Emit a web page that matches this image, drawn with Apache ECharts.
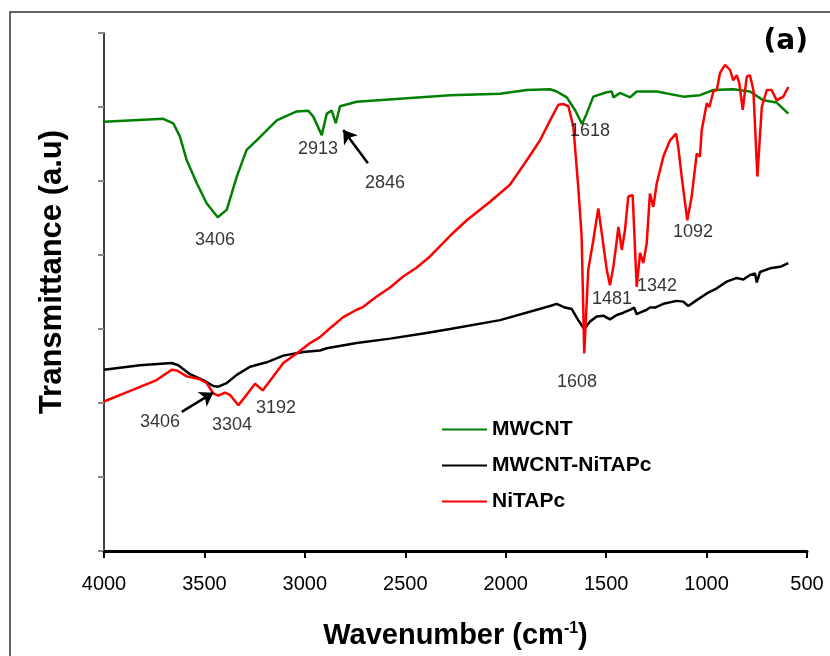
<!DOCTYPE html>
<html>
<head>
<meta charset="utf-8">
<script src="https://cdn.jsdelivr.net/npm/echarts@6/dist/echarts.min.js"></script>
<style>
  html, body { margin: 0; padding: 0; background: #fff; }
  #chart { width: 830px; height: 656px; }
</style>
</head>
<body>
<div id="chart"></div>
<script>
// wavenumber (cm-1) / transmittance (a.u.)
const mwcntWn = [4000, 3705, 3655, 3622, 3588, 3538, 3489, 3434, 3389, 3339, 3290, 3240, 3140, 3041, 2983, 2958, 2916, 2891, 2866, 2846, 2825, 2742, 2277, 2028, 1895, 1779, 1746, 1696, 1655, 1620, 1597, 1564, 1497, 1472, 1464, 1431, 1381, 1348, 1248, 1116, 1033, 966, 867, 784, 717, 651, 593]
const mwcntT = [5.80, 5.84, 5.78, 5.60, 5.28, 4.97, 4.70, 4.51, 4.61, 5.06, 5.42, 5.55, 5.82, 5.94, 5.95, 5.87, 5.62, 5.91, 5.95, 5.78, 6.01, 6.07, 6.16, 6.18, 6.23, 6.24, 6.21, 6.13, 5.96, 5.77, 5.91, 6.14, 6.20, 6.21, 6.13, 6.19, 6.13, 6.21, 6.21, 6.14, 6.16, 6.23, 6.24, 6.21, 6.09, 6.06, 5.91]

const hybridWn = [4000, 3821, 3663, 3630, 3572, 3506, 3456, 3431, 3389, 3339, 3273, 3190, 3107, 3008, 2925, 2891, 2742, 2576, 2410, 2277, 2028, 1779, 1746, 1705, 1671, 1639, 1609, 1580, 1547, 1514, 1481, 1447, 1414, 1373, 1361, 1348, 1323, 1298, 1282, 1257, 1215, 1149, 1116, 1091, 1049, 999, 949, 900, 850, 817, 784, 759, 750, 734, 684, 634, 593]
const hybridT = [2.45, 2.51, 2.54, 2.51, 2.39, 2.31, 2.23, 2.22, 2.27, 2.38, 2.49, 2.55, 2.64, 2.69, 2.71, 2.74, 2.81, 2.87, 2.94, 3.00, 3.12, 3.31, 3.34, 3.29, 3.27, 3.12, 3.00, 3.10, 3.17, 3.18, 3.13, 3.19, 3.22, 3.27, 3.29, 3.20, 3.23, 3.26, 3.29, 3.29, 3.34, 3.38, 3.37, 3.31, 3.39, 3.48, 3.55, 3.64, 3.69, 3.67, 3.73, 3.75, 3.63, 3.77, 3.82, 3.84, 3.89]

const nitapcWn = [4000, 3854, 3738, 3663, 3638, 3588, 3522, 3489, 3456, 3431, 3398, 3373, 3331, 3290, 3248, 3210, 3165, 3107, 3041, 2974, 2925, 2875, 2809, 2742, 2709, 2642, 2576, 2510, 2443, 2377, 2277, 2194, 2078, 1979, 1895, 1829, 1779, 1738, 1713, 1688, 1663, 1639, 1622, 1609, 1589, 1564, 1539, 1522, 1497, 1481, 1464, 1447, 1439, 1422, 1406, 1390, 1368, 1348, 1331, 1315, 1298, 1282, 1265, 1248, 1215, 1182, 1152, 1141, 1124, 1096, 1074, 1049, 1033, 1024, 999, 986, 966, 949, 933, 908, 883, 867, 850, 837, 820, 800, 784, 767, 747, 725, 700, 676, 651, 618, 593]
const nitapcT = [2.02, 2.18, 2.31, 2.45, 2.44, 2.36, 2.32, 2.27, 2.13, 2.10, 2.14, 2.11, 1.97, 2.11, 2.26, 2.17, 2.33, 2.54, 2.67, 2.81, 2.89, 3.01, 3.16, 3.26, 3.30, 3.44, 3.56, 3.71, 3.83, 3.98, 4.26, 4.47, 4.72, 4.95, 5.28, 5.55, 5.82, 6.03, 6.04, 6.01, 5.73, 4.92, 4.25, 2.67, 3.80, 4.20, 4.63, 4.30, 3.80, 3.59, 3.84, 4.20, 4.38, 4.07, 4.34, 4.79, 4.81, 3.57, 4.03, 3.89, 4.16, 4.83, 4.65, 4.97, 5.33, 5.55, 5.64, 5.46, 5.06, 4.47, 4.79, 5.37, 5.33, 5.69, 6.05, 6.00, 6.21, 6.23, 6.46, 6.57, 6.50, 6.36, 6.43, 6.32, 5.96, 6.41, 6.43, 6.23, 5.06, 6.00, 6.23, 6.23, 6.09, 6.14, 6.27]

// peak labels
const peakText = ['3406', '2913', '2846', '1618', '1092', '1481', '1342', '1608', '3406', '3304', '3192']
const peakWn = [3447, 2935, 2601, 1580, 1067, 1471, 1247, 1645, 3721, 3363, 3144]
const peakT = [4.20, 5.43, 4.97, 5.68, 4.31, 3.41, 3.58, 2.28, 1.74, 1.70, 1.93]

// arrows: [tail wn, tail T, head wn, head T]
const arrows = [
  [2686, 5.24, 2809, 5.69],
  [3613, 1.88, 3456, 2.14]
]

const seriesNames = ['MWCNT', 'MWCNT-NiTAPc', 'NiTAPc']

const zip = (a, b) => a.map((v, i) => [v, b[i]])

const chart = echarts.init(document.getElementById('chart'))

const lineSeries = (name, data, color) => ({
  name: name,
  type: 'line',
  data: data,
  showSymbol: false,
  symbol: 'none',
  lineStyle: { color: color, width: 2.5 },
  itemStyle: { color: color },
  z: 3
})

chart.setOption({
  animation: false,
  textStyle: { fontFamily: 'Liberation Sans, Arial, sans-serif' },
  grid: { left: 104, right: 23, top: 33, bottom: 105 },
  legend: {
    data: seriesNames,
    orient: 'vertical',
    left: 437,
    top: 414,
    icon: 'rect',
    itemWidth: 45,
    itemHeight: 2,
    itemGap: 15,
    textStyle: { fontSize: 21, fontWeight: 'bold', color: '#000' }
  },
  xAxis: {
    type: 'value',
    inverse: true,
    min: 500,
    max: 4000,
    interval: 500,
    name: '{b|Wavenumber (cm}{s|-1}{b|)}',
    nameLocation: 'middle',
    nameGap: 70,
    nameTextStyle: {
      rich: {
        b: { fontSize: 29, fontWeight: 'bold', color: '#000' },
        s: { fontSize: 16, fontWeight: 'bold', color: '#000', verticalAlign: 'top', padding: [0, 0, 13, 0] }
      }
    },
    axisLine: { lineStyle: { color: '#000', width: 3 } },
    axisTick: { length: 7, lineStyle: { color: '#000', width: 2 } },
    axisLabel: { fontSize: 20, color: '#000', margin: 23, formatter: v => String(v) },
    splitLine: { show: false }
  },
  yAxis: {
    type: 'value',
    min: 0,
    max: 7,
    interval: 1,
    axisLine: { show: true, onZero: false, lineStyle: { color: '#000', width: 1.5 } },
    axisTick: { show: true, length: 6, lineStyle: { color: '#888', width: 2 } },
    axisLabel: { show: false },
    splitLine: { show: false }
  },
  graphic: [
    {
      type: 'rect',
      shape: { x: 10, y: 12, width: 900, height: 800 },
      style: { fill: 'none', stroke: '#333', lineWidth: 1.5 },
      silent: true
    },
    {
      type: 'text',
      x: 52,
      y: 272,
      rotation: Math.PI / 2,
      style: {
        text: 'Transmittance (a.u)',
        font: 'bold 31px Liberation Sans, Arial, sans-serif',
        fill: '#000',
        align: 'center',
        verticalAlign: 'middle'
      }
    },
    {
      type: 'text',
      right: 22,
      top: 28,
      style: {
        text: '(a)',
        font: 'bold 28px DejaVu Sans, sans-serif',
        fill: '#000'
      }
    }
  ],
  series: [
    lineSeries(seriesNames[0], zip(mwcntWn, mwcntT), '#008000'),
    lineSeries(seriesNames[1], zip(hybridWn, hybridT), '#000000'),
    lineSeries(seriesNames[2], zip(nitapcWn, nitapcT), '#ff0000'),
    {
      type: 'scatter',
      symbolSize: 0,
      silent: true,
      data: peakText.map((t, i) => ({ value: [peakWn[i], peakT[i]], name: t })),
      label: {
        show: true,
        position: 'inside',
        formatter: p => p.name,
        fontSize: 18,
        color: '#000'
      },
      z: 5
    },
    {
      type: 'lines',
      coordinateSystem: 'cartesian2d',
      silent: true,
      symbol: ['none', 'arrow'],
      symbolSize: 13,
      lineStyle: { color: '#000', width: 2.5, opacity: 1 },
      data: arrows.map(a => ({ coords: [[a[0], a[1]], [a[2], a[3]]] })),
      z: 6
    }
  ]
})
</script>
</body>
</html>
